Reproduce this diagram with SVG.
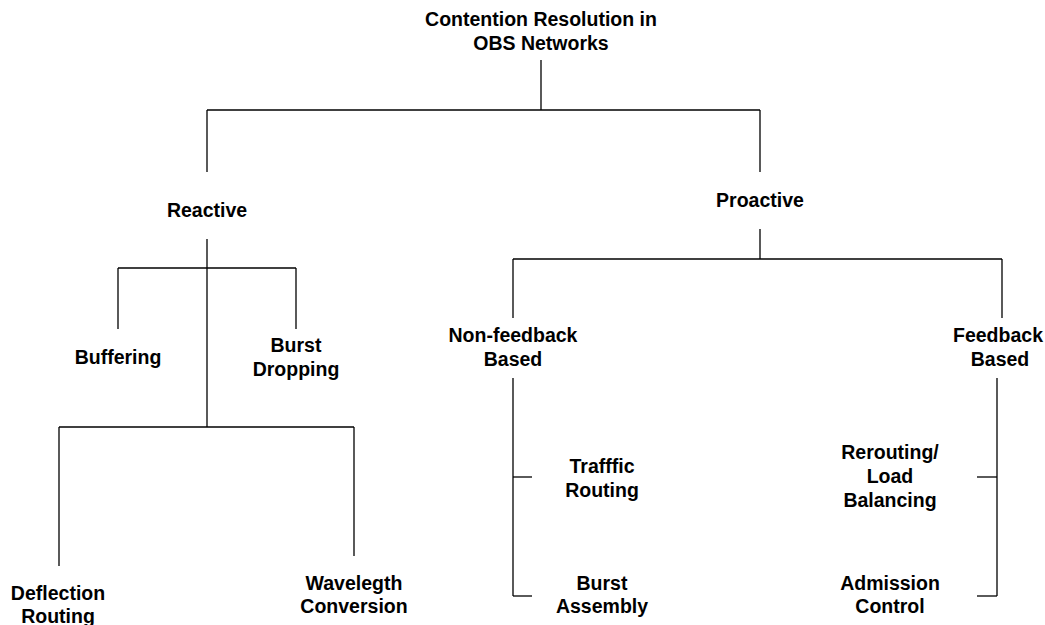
<svg xmlns="http://www.w3.org/2000/svg" width="1045" height="625" viewBox="0 0 1045 625">
<style>
text{font-family:"Liberation Sans",Arial,sans-serif;font-weight:bold;font-size:19.5px;fill:#000;text-anchor:middle}
.c line{stroke:#000;stroke-width:1.3}
</style>
<rect width="1045" height="625" fill="#fff"/>
<g class="c" id="connectors">
<line x1="541" y1="60" x2="541" y2="110"/>
<line x1="207" y1="110" x2="760" y2="110"/>
<line x1="207" y1="110" x2="207" y2="172"/>
<line x1="760" y1="110" x2="760" y2="172"/>
<line x1="207" y1="239" x2="207" y2="427"/>
<line x1="118" y1="268" x2="296" y2="268"/>
<line x1="118" y1="268" x2="118" y2="329"/>
<line x1="296" y1="268" x2="296" y2="329"/>
<line x1="59" y1="427" x2="354" y2="427"/>
<line x1="59" y1="427" x2="59" y2="566"/>
<line x1="354" y1="427" x2="354" y2="556"/>
<line x1="760" y1="229" x2="760" y2="259"/>
<line x1="513" y1="259" x2="1002" y2="259"/>
<line x1="513" y1="259" x2="513" y2="318"/>
<line x1="1002" y1="259" x2="1002" y2="318"/>
<line x1="513" y1="378" x2="513" y2="596"/>
<line x1="513" y1="477" x2="532" y2="477"/>
<line x1="513" y1="596" x2="532" y2="596"/>
<line x1="997" y1="378" x2="997" y2="596"/>
<line x1="977" y1="477" x2="997" y2="477"/>
<line x1="977" y1="596" x2="997" y2="596"/>
</g>
<g id="root"><text x="541" y="26">Contention Resolution in</text><text x="541" y="50">OBS Networks</text></g>
<g id="reactive"><text x="207" y="217">Reactive</text></g>
<g id="proactive"><text x="760" y="207">Proactive</text></g>
<g id="buffering"><text x="118" y="364">Buffering</text></g>
<g id="burst-dropping"><text x="296" y="352">Burst</text><text x="296" y="376">Dropping</text></g>
<g id="deflection"><text x="58" y="600">Deflection</text><text x="58" y="623">Routing</text></g>
<g id="wavelength"><text x="354" y="590">Wavelegth</text><text x="354" y="613">Conversion</text></g>
<g id="non-feedback"><text x="513" y="342">Non-feedback</text><text x="513" y="366">Based</text></g>
<g id="feedback"><text x="998" y="342">Feedback</text><text x="1000" y="366">Based</text></g>
<g id="traffic-routing"><text x="602" y="473">Trafffic</text><text x="602" y="497">Routing</text></g>
<g id="burst-assembly"><text x="602" y="590">Burst</text><text x="602" y="613">Assembly</text></g>
<g id="rerouting"><text x="890" y="459">Rerouting/</text><text x="890" y="483">Load</text><text x="890" y="507">Balancing</text></g>
<g id="admission"><text x="890" y="590">Admission</text><text x="890" y="613">Control</text></g>
</svg>
